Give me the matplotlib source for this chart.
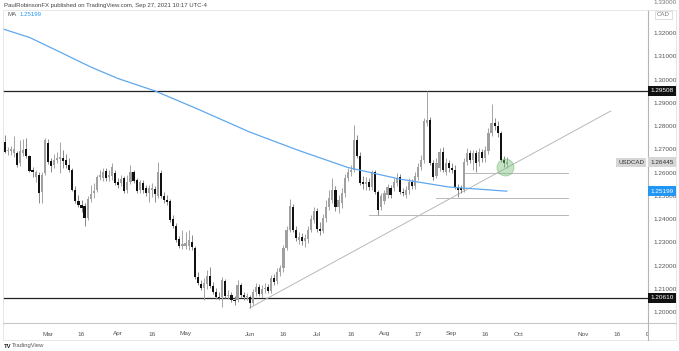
import numpy as np
import matplotlib
matplotlib.use('Agg')
import matplotlib.pyplot as plt
import matplotlib.transforms as mtransforms
from matplotlib.patches import Rectangle
from matplotlib.lines import Line2D

plt.rcParams['font.family'] = ['Liberation Sans', 'DejaVu Sans']

# USDCAD daily candles, Feb 9 2021 -> Sep 27 2021 (weekdays)
start_day = '2021-02-09'
end_day = '2021-09-27'

opens = [1.2733, 1.2693, 1.2693, 1.2684, 1.2684, 1.2641, 1.2684, 1.2701, 1.2671, 1.2611, 1.2581, 1.2590, 1.2516, 1.2598,
         1.2727, 1.2650, 1.2632, 1.2654, 1.2658, 1.2663, 1.2654, 1.2632, 1.2611, 1.2525, 1.2478, 1.2461, 1.2456, 1.2405,
         1.2486, 1.2512, 1.2525, 1.2581, 1.2577, 1.2607, 1.2581, 1.2585, 1.2598,
         1.2559, 1.2555, 1.2577, 1.2525, 1.2559, 1.2602, 1.2568, 1.2525, 1.2555, 1.2534, 1.2512, 1.2525, 1.2529, 1.2499,
         1.2598, 1.2499, 1.2482, 1.2478, 1.2400, 1.2370, 1.2314, 1.2284,
         1.2284, 1.2284, 1.2301, 1.2276, 1.2151, 1.2121, 1.2104, 1.2121, 1.2155, 1.2112, 1.2086, 1.2065, 1.2065, 1.2134,
         1.2069, 1.2074, 1.2052, 1.2052, 1.2117, 1.2074, 1.2065,
         1.2065, 1.2039, 1.2086, 1.2108, 1.2078, 1.2099, 1.2108, 1.2091, 1.2147, 1.2134, 1.2172, 1.2190, 1.2276, 1.2353,
         1.2452, 1.2353, 1.2310, 1.2323, 1.2306, 1.2314, 1.2353, 1.2396,
         1.2435, 1.2357, 1.2349, 1.2405, 1.2452, 1.2482, 1.2525, 1.2452, 1.2469, 1.2512, 1.2577, 1.2602, 1.2611, 1.2740,
         1.2671, 1.2559, 1.2551, 1.2559, 1.2538, 1.2602, 1.2516, 1.2452,
         1.2478, 1.2504, 1.2534, 1.2534, 1.2555, 1.2581, 1.2516, 1.2504, 1.2525, 1.2559, 1.2542, 1.2581, 1.2624, 1.2654,
         1.2813, 1.2826, 1.2641, 1.2585, 1.2620, 1.2688, 1.2602, 1.2641,
         1.2620, 1.2611, 1.2538, 1.2534, 1.2525, 1.2645, 1.2684, 1.2654, 1.2684, 1.2645, 1.2688, 1.2663, 1.2693, 1.2770,
         1.2813, 1.2800, 1.2770, 1.2654, 1.2637]
highs = [1.2762, 1.2710, 1.2714, 1.2757, 1.2693, 1.2740, 1.2744, 1.2749, 1.2675, 1.2624, 1.2611, 1.2602, 1.2602, 1.2749,
         1.2744, 1.2663, 1.2680, 1.2688, 1.2731, 1.2697, 1.2680, 1.2663, 1.2620, 1.2542, 1.2504, 1.2482, 1.2469, 1.2499,
         1.2547, 1.2555, 1.2590, 1.2611, 1.2620, 1.2620, 1.2611, 1.2641, 1.2611,
         1.2577, 1.2590, 1.2585, 1.2590, 1.2632, 1.2611, 1.2577, 1.2568, 1.2568, 1.2547, 1.2547, 1.2555, 1.2542, 1.2645,
         1.2611, 1.2516, 1.2504, 1.2486, 1.2418, 1.2383, 1.2327, 1.2353,
         1.2344, 1.2353, 1.2332, 1.2284, 1.2172, 1.2138, 1.2147, 1.2181, 1.2194, 1.2129, 1.2104, 1.2086, 1.2151, 1.2142,
         1.2095, 1.2086, 1.2069, 1.2138, 1.2125, 1.2086, 1.2082,
         1.2074, 1.2099, 1.2125, 1.2121, 1.2117, 1.2125, 1.2121, 1.2160, 1.2164, 1.2190, 1.2203, 1.2289, 1.2370, 1.2486,
         1.2465, 1.2370, 1.2344, 1.2340, 1.2336, 1.2370, 1.2418, 1.2452,
         1.2448, 1.2387, 1.2422, 1.2482, 1.2525, 1.2577, 1.2542, 1.2504, 1.2534, 1.2594, 1.2620, 1.2632, 1.2805, 1.2762,
         1.2688, 1.2585, 1.2581, 1.2577, 1.2611, 1.2611, 1.2525, 1.2512,
         1.2525, 1.2551, 1.2547, 1.2577, 1.2598, 1.2594, 1.2534, 1.2542, 1.2577, 1.2572, 1.2602, 1.2641, 1.2675, 1.2835,
         1.2951, 1.2839, 1.2654, 1.2663, 1.2706, 1.2710, 1.2663, 1.2654,
         1.2641, 1.2632, 1.2551, 1.2547, 1.2663, 1.2706, 1.2697, 1.2697, 1.2697, 1.2706, 1.2701, 1.2714, 1.2792, 1.2895,
         1.2835, 1.2822, 1.2779, 1.2671, 1.2667]
lows = [1.2684, 1.2675, 1.2675, 1.2667, 1.2624, 1.2628, 1.2671, 1.2663, 1.2602, 1.2581, 1.2559, 1.2469, 1.2469, 1.2590,
        1.2637, 1.2602, 1.2620, 1.2641, 1.2598, 1.2620, 1.2620, 1.2602, 1.2521, 1.2469, 1.2452, 1.2430, 1.2370, 1.2396,
        1.2473, 1.2491, 1.2516, 1.2568, 1.2564, 1.2564, 1.2564, 1.2568, 1.2547,
        1.2534, 1.2542, 1.2512, 1.2512, 1.2551, 1.2555, 1.2512, 1.2512, 1.2512, 1.2499, 1.2473, 1.2495, 1.2473, 1.2491,
        1.2491, 1.2469, 1.2461, 1.2387, 1.2362, 1.2301, 1.2276, 1.2271,
        1.2271, 1.2267, 1.2267, 1.2142, 1.2117, 1.2095, 1.2052, 1.2099, 1.2104, 1.2078, 1.2056, 1.2052, 1.2022, 1.2061,
        1.2056, 1.2043, 1.2030, 1.2043, 1.2065, 1.2052, 1.2052,
        1.2018, 1.2030, 1.2069, 1.2069, 1.2065, 1.2082, 1.2082, 1.2082, 1.2117, 1.2121, 1.2155, 1.2172, 1.2267, 1.2344,
        1.2344, 1.2306, 1.2293, 1.2289, 1.2280, 1.2297, 1.2344, 1.2383,
        1.2344, 1.2332, 1.2340, 1.2387, 1.2439, 1.2469, 1.2435, 1.2426, 1.2448, 1.2495, 1.2564, 1.2585, 1.2602, 1.2663,
        1.2547, 1.2529, 1.2525, 1.2525, 1.2525, 1.2508, 1.2418, 1.2439,
        1.2465, 1.2491, 1.2491, 1.2521, 1.2542, 1.2508, 1.2499, 1.2491, 1.2508, 1.2529, 1.2529, 1.2568, 1.2611, 1.2641,
        1.2800, 1.2632, 1.2568, 1.2577, 1.2607, 1.2602, 1.2590, 1.2602,
        1.2598, 1.2529, 1.2495, 1.2512, 1.2516, 1.2632, 1.2641, 1.2611, 1.2602, 1.2628, 1.2645, 1.2645, 1.2680, 1.2757,
        1.2783, 1.2753, 1.2645, 1.2624, 1.2620]
closes = [1.2690, 1.2697, 1.2701, 1.2701, 1.2632, 1.2693, 1.2697, 1.2671, 1.2607, 1.2602, 1.2602, 1.2512, 1.2590, 1.2740,
          1.2645, 1.2628, 1.2654, 1.2663, 1.2667, 1.2650, 1.2632, 1.2611, 1.2525, 1.2478, 1.2461, 1.2448, 1.2405, 1.2486,
          1.2508, 1.2521, 1.2581, 1.2590, 1.2602, 1.2577, 1.2590, 1.2624, 1.2555,
          1.2547, 1.2572, 1.2521, 1.2559, 1.2602, 1.2564, 1.2521, 1.2559, 1.2525, 1.2512, 1.2534, 1.2534, 1.2508, 1.2602,
          1.2499, 1.2482, 1.2473, 1.2396, 1.2370, 1.2310, 1.2284, 1.2293,
          1.2297, 1.2310, 1.2280, 1.2151, 1.2125, 1.2104, 1.2125, 1.2155, 1.2112, 1.2086, 1.2065, 1.2061, 1.2138, 1.2069,
          1.2074, 1.2052, 1.2048, 1.2117, 1.2074, 1.2065, 1.2069,
          1.2039, 1.2086, 1.2108, 1.2078, 1.2099, 1.2104, 1.2091, 1.2147, 1.2129, 1.2172, 1.2190, 1.2276, 1.2353, 1.2456,
          1.2353, 1.2319, 1.2323, 1.2306, 1.2319, 1.2353, 1.2400, 1.2435,
          1.2357, 1.2349, 1.2405, 1.2452, 1.2491, 1.2525, 1.2452, 1.2482, 1.2512, 1.2577, 1.2602, 1.2611, 1.2740, 1.2671,
          1.2555, 1.2551, 1.2559, 1.2538, 1.2602, 1.2516, 1.2439, 1.2499,
          1.2512, 1.2538, 1.2504, 1.2559, 1.2577, 1.2516, 1.2512, 1.2525, 1.2559, 1.2542, 1.2585, 1.2624, 1.2654, 1.2822,
          1.2826, 1.2641, 1.2581, 1.2641, 1.2688, 1.2611, 1.2641, 1.2620,
          1.2611, 1.2538, 1.2525, 1.2525, 1.2645, 1.2684, 1.2654, 1.2684, 1.2641, 1.2688, 1.2663, 1.2697, 1.2770, 1.2813,
          1.2800, 1.2770, 1.2654, 1.2641, 1.26445]

# 200-day moving average, read at roughly weekly/biweekly points
ma_dates = ['2021-02-08', '2021-02-19', '2021-03-05', '2021-03-19', '2021-04-01', '2021-04-19', '2021-05-07',
            '2021-06-01', '2021-06-23', '2021-07-15', '2021-08-09', '2021-08-31', '2021-09-27']
ma_values = [1.3219, 1.3181, 1.3118, 1.3054, 1.3004, 1.2951, 1.2873, 1.2774, 1.2695, 1.2622, 1.2572, 1.2538, 1.25199]

# drawn levels
black_levels = [1.29508, 1.20610]
gray_levels = [1.2599, 1.2492, 1.2418]
gray_starts = ['2021-09-07', '2021-08-25', '2021-07-26']
gray_end = '2021-10-25'
trend_dates = ['2021-06-01', '2021-11-12']
trend_prices = [1.2018, 1.2865]
circle_date = '2021-09-27'
circle_price = 1.2626

# time axis labels
tick_dates = ['2021-03-01', '2021-03-16', '2021-04-01', '2021-04-16', '2021-05-03', '2021-06-01', '2021-06-16',
              '2021-07-01', '2021-07-16', '2021-08-02', '2021-08-17', '2021-09-01', '2021-09-16', '2021-10-01',
              '2021-11-01', '2021-11-16', '2021-12-01']
tick_names = ['Mar', '16', 'Apr', '16', 'May', 'Jun', '16', 'Jul', '16', 'Aug', '17', 'Sep', '16', 'Oct',
              'Nov', '16', 'Dec']


def pos(d):
    return np.busday_count(start_day, d)


W, H = 679, 351
fig = plt.figure(figsize=(W / 100, H / 100), dpi=100)
fig.patch.set_facecolor('white')

L, R, T, B = 3, 648, 10, 323
ax = fig.add_axes([L / W, 1 - B / H, (R - L) / W, (B - T) / H])
ax.set_facecolor('white')

o = np.array(opens); h = np.array(highs); lo = np.array(lows); c = np.array(closes)
x = np.arange(len(o))
up = c >= o
body = np.maximum(np.abs(c - o), 0.00012)
bottom = np.minimum(o, c)

ax.vlines(x[up], lo[up], h[up], color='#a4a4a4', lw=0.7, zorder=2)
ax.vlines(x[~up], lo[~up], h[~up], color='#8a8a8a', lw=0.7, zorder=2)
ax.bar(x[up], body[up], bottom=bottom[up], width=0.7, color='#a0a0a0', lw=0, zorder=3)
ax.bar(x[~up], body[~up], bottom=bottom[~up], width=0.7, color='#111111', lw=0, zorder=3)

ax.plot([pos(d) for d in ma_dates], ma_values, color='#5fa8ee', lw=0.9, zorder=4)

for lv in black_levels:
    ax.axhline(lv, color='#222222', lw=0.9, zorder=1)
for lv, s in zip(gray_levels, gray_starts):
    ax.plot([pos(s), pos(gray_end)], [lv, lv], color='#b8b8b8', lw=0.7, zorder=1)
ax.plot([pos(d) for d in trend_dates], trend_prices, color='#b8b8b8', lw=0.7, zorder=1)

ax.scatter([pos(circle_date) - 0.5], [circle_price], s=150, color='#7cbf7c', alpha=0.45,
           edgecolors='#5aa85a', linewidths=0.6, zorder=5)

ax.set_xlim((L - 5) / 3.06, (R - 5) / 3.06)
ax.set_ylim(1.19531, 1.3299)

ax.yaxis.tick_right()
ax.set_yticks(np.round(np.arange(1.20, 1.325, 0.01), 2))
ax.set_yticklabels(['%.5f' % v for v in np.round(np.arange(1.20, 1.325, 0.01), 2)])
ax.tick_params(axis='y', length=0, pad=4, labelsize=4.6, labelcolor='#555555')
ax.set_xticks([])
for s in ['top', 'left', 'bottom']:
    ax.spines[s].set_visible(False)
ax.spines['right'].set_color('#b5b5b5')
ax.spines['right'].set_linewidth(0.8)

# price tags on the right scale
yt = mtransforms.blended_transform_factory(ax.transAxes, ax.transData)
def tag(val, text, bg, fg):
    ax.text(1.004, val, text, transform=yt, ha='left', va='center', fontsize=4.6, color=fg,
            bbox=dict(boxstyle='square,pad=0.35', fc=bg, ec='none'), clip_on=False, zorder=10)

tag(black_levels[0], '%.5f' % black_levels[0], '#111111', 'white')
tag(black_levels[1], '%.5f' % black_levels[1], '#111111', 'white')
tag(closes[-1], '%.5f' % closes[-1], '#d6d6d6', '#333333')
tag(ma_values[-1], '%.5f' % ma_values[-1], '#2196f3', 'white')
ax.text(0.994, closes[-1], 'USDCAD', transform=yt, ha='right', va='center', fontsize=4.4, color='#333333',
        bbox=dict(boxstyle='square,pad=0.35', fc='#d6d6d6', ec='none'), zorder=10)

# time axis
ax_t = fig.add_axes([L / W, 1 - 345 / H, (R - L) / W, (345 - B) / H])
ax_t.set_xlim(ax.get_xlim())
ax_t.set_ylim(0, 1)
ax_t.axis('off')
for d, n in zip(tick_dates, tick_names):
    ax_t.text(pos(d), 0.5, n, ha='center', va='center', fontsize=4.6, color='#555555', clip_on=True)

# frame lines
fig.add_artist(Line2D([L / W, 676 / W], [1 - B / H, 1 - B / H], color='#c8c8c8', lw=0.8))
fig.add_artist(Line2D([R / W, R / W], [1 - 340 / H, 1 - B / H], color='#b5b5b5', lw=0.8))
fig.add_artist(Rectangle((L / W, 1 - 340 / H), 673 / W, 330 / H, fill=False, ec='#e3e3e3', lw=0.6))

# header and top scale bits
fig.text(4 / W, 1 - 5 / H, 'PaulRobinsonFX published on TradingView.com, Sep 27, 2021 10:17 UTC-4',
         fontsize=4.3, color='#444444', va='center', ha='left')
fig.text(7 / W, 1 - 15 / H, 'MA', fontsize=4.4, color='#555555', va='center', ha='left')
fig.text(20 / W, 1 - 15 / H, '%.5f' % ma_values[-1], fontsize=4.4, color='#2196f3', va='center', ha='left')
fig.text(653 / W, 1 - 3 / H, '1.33000', fontsize=4.6, color='#777777', va='center', ha='left')
fig.text(657 / W, 1 - 15 / H, 'CAD', fontsize=4.4, color='#777777', va='center', ha='left',
         bbox=dict(boxstyle='square,pad=0.3', fc='white', ec='#d0d0d0', lw=0.5))
fig.text(4 / W, 1 - 346 / H, 'TV', fontsize=4.2, color='#222222', va='center', ha='left', fontweight='bold')
fig.text(12 / W, 1 - 346 / H, 'TradingView', fontsize=4.2, color='#555555', va='center', ha='left')

fig.savefig('out.png', dpi=100)
